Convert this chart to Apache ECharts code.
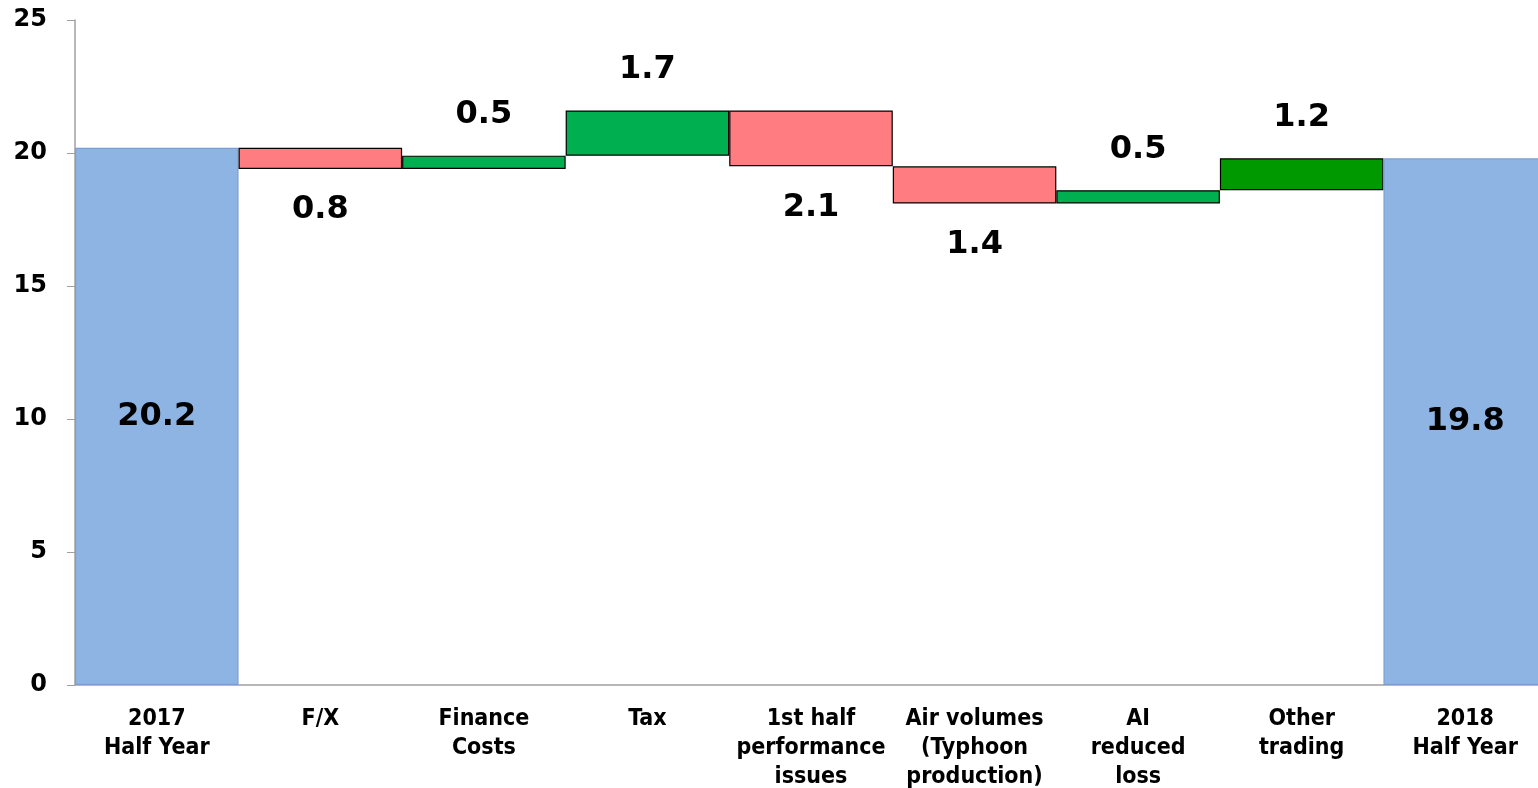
<!DOCTYPE html>
<html>
<head>
<meta charset="utf-8">
<script src="https://cdn.jsdelivr.net/npm/echarts@6/dist/echarts.min.js"></script>
<style>
html,body{margin:0;padding:0;background:#fff;overflow:hidden;}
#chart{width:1538px;height:788px;}
</style>
</head>
<body>
<div id="chart"></div>
<script>
const categories = ['2017\nHalf Year','F/X','Finance\nCosts','Tax','1st half\nperformance\nissues','Air volumes\n(Typhoon\nproduction)','AI\nreduced\nloss','Other\ntrading','2018\nHalf Year'];
const values = [20.2, -0.8, 0.5, 1.7, -2.1, -1.4, 0.5, 1.2, 19.8];
const kinds = ['total','down','up','up','down','down','up','up2','total'];
const yTicks = [0, 5, 10, 15, 20, 25];

const colorMap = {total:'#8EB4E3', down:'#FF7C80', up:'#00B050', up2:'#009900'};
const borderMap = {total:'#7A9FD2', down:'#000', up:'#000', up2:'#000'};

const base = [], height = [];
let run = 0;
values.forEach((v, i) => {
  if (kinds[i] === 'total') { base.push(0); height.push(v); run = v; }
  else if (v >= 0) { base.push(run); height.push(v); run += v; }
  else { run += v; base.push(run); height.push(-v); }
});

const labelFont = {fontFamily:'DejaVu Sans', fontWeight:'bold', fontSize:32, color:'#000'};

const chart = echarts.init(document.getElementById('chart'));
chart.setOption({
  animation:false,
  grid:{left:75, right:-9, top:20, bottom:103, outerBoundsMode:'none', containLabel:false},
  xAxis:{
    type:'category', data:categories,
    axisLine:{lineStyle:{color:'#A0A0A0', width:1.5}},
    axisTick:{length:6, lineStyle:{color:'#A0A0A0'}},
    axisLabel:{interval:0, margin:20, lineHeight:29, fontFamily:"'Liberation Sans Narrow','DejaVu Sans Condensed',sans-serif", fontWeight:'bold', fontSize:23, color:'#000'}
  },
  yAxis:{
    type:'value', min:0, max:25, interval:5,
    axisLine:{show:true, lineStyle:{color:'#A0A0A0', width:1.5}},
    axisTick:{show:true, length:8, lineStyle:{color:'#A0A0A0'}},
    splitLine:{show:false},
    axisLabel:{margin:28, fontFamily:'DejaVu Sans', fontWeight:'bold', fontSize:24, color:'#000',
      formatter: v => yTicks.includes(v) ? String(v) : ''}
  },
  series:[
    {type:'bar', stack:'w', data:base, itemStyle:{color:'transparent'}, barCategoryGap:'0%', silent:true},
    {type:'bar', stack:'w', barCategoryGap:'0%',
      data: height.map((h, i) => {
        const k = kinds[i];
        return {
          value: h,
          itemStyle:{color:colorMap[k], borderColor:borderMap[k], borderWidth:1.2},
          label:{show:true, ...labelFont,
            position: k === 'total' ? 'inside' : (k === 'down' ? 'bottom' : 'top'),
            distance: 25,
            formatter: () => Math.abs(values[i]).toFixed(1)}
        };
      })
    }
  ]
});
</script>
</body>
</html>
